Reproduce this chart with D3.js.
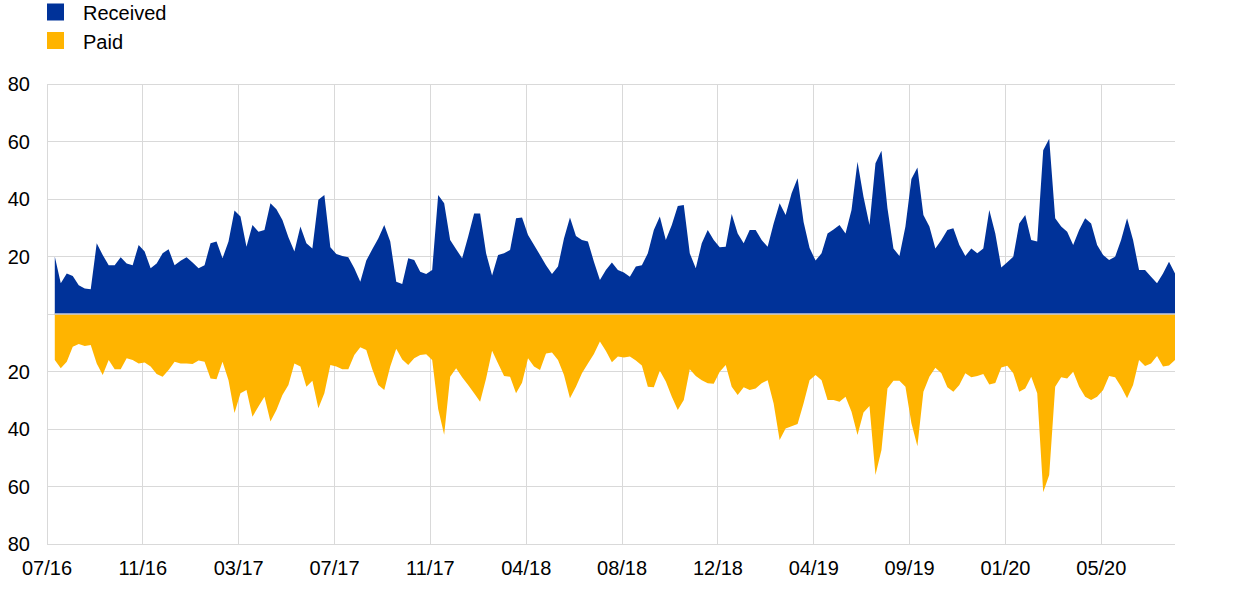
<!DOCTYPE html>
<html>
<head>
<meta charset="utf-8">
<script src="https://cdn.jsdelivr.net/npm/d3@7"></script>
<style>
  html, body { margin: 0; padding: 0; background: #ffffff; }
  svg { display: block; }
  text { font-family: "Liberation Sans", Arial, sans-serif; fill: #000; }
</style>
</head>
<body>
<svg id="chart" width="1240" height="590"></svg>
<script>
// Received (above zero) and paid (plotted below zero), sampled at regular intervals
const received = [
  20, 10.7, 14.1, 13.2, 10, 8.9, 8.6, 24.6, 20.5, 17,
  17, 19.7, 17.6, 17, 24, 21.7, 15.9, 17.6, 21.1, 22.5,
  17, 18.5, 19.7, 17.9, 15.9, 17, 24.6, 25.2, 19.4, 25.2,
  36, 33.9, 23.4, 31, 28.6, 29.2, 38.5, 36.4, 32.7, 26.7,
  21.7, 30.4, 24.6, 22.8, 39.7, 41.4, 23.2, 20.9, 20.2, 19.7,
  15.9, 11.2, 18.6, 22.5, 26.3, 31, 25.2, 11.2, 10.4, 19.4,
  18.8, 14.7, 13.9, 15.3, 41.4, 38.5, 25.7, 22.5, 19.4, 26.9,
  35, 35, 21.1, 13.4, 20.5, 21.1, 22.3, 33.3, 33.6, 27.5,
  24, 20.5, 17, 13.9, 16.5, 26.3, 33.6, 27.1, 25.7, 25.2,
  18.2, 11.8, 15.3, 17.9, 15.3, 14.4, 13, 16.5, 17, 21.1,
  29.2, 33.9, 25.7, 31, 37.6, 37.9, 21.1, 15.9, 24.6, 29.2,
  25.7, 23.2, 23.4, 34.8, 28, 24.6, 29.2, 29.2, 25.7, 23.4,
  31.5, 38.5, 34.4, 42, 47.2, 32, 23, 18.6, 21.1, 28,
  29.4, 31, 28, 36.2, 53, 40.8, 31, 52.4, 56.8, 36.8,
  22.8, 20.2, 30.4, 47, 51, 34.4, 30.4, 22.8, 25.7, 29.2,
  29.8, 24, 20.2, 22.8, 21.1, 22.8, 36.2, 28, 16.2, 18,
  19.9, 31.5, 34.4, 25.7, 25.2, 57, 61, 33.3, 30.4, 28.6,
  24, 29.2, 33.3, 31.5, 24, 20.5, 18.8, 19.9, 25.7, 33.3,
  25.7, 15.3, 15.3, 13, 10.7, 14.1, 18.2, 14.1
];
const paid = [
  16, 18.9, 16.6, 11.4, 10.4, 11.1, 10.8, 17.2, 21.2, 16,
  19.2, 19.2, 15.4, 16, 17.2, 16.9, 18.3, 20.9, 21.8, 19.5,
  16.6, 17.2, 17.2, 17.4, 16.2, 16.6, 22.4, 22.7, 16.6, 23,
  34.4, 27.6, 26.4, 35.7, 32.2, 28.8, 37.4, 33.4, 28.2, 24.7,
  17.2, 18.3, 25.3, 23.2, 32.8, 27.6, 17.7, 18.3, 19.2, 19.2,
  14.3, 11.6, 12.5, 19.2, 24.7, 26.4, 18.3, 12.1, 15.8, 17.7,
  15.4, 14.3, 14, 16, 33, 42, 21.8, 18.9, 22, 24.7,
  27.6, 30.5, 22.4, 12.8, 17.2, 21.6, 21.8, 27.6, 23.9, 15.4,
  18.3, 19.5, 13.7, 13.4, 16, 21.2, 29.3, 25.3, 20.6, 17.2,
  13.9, 9.6, 12.9, 16.8, 14.8, 15.1, 14.8, 16.2, 17.9, 25.3,
  25.5, 19.7, 23.5, 28.8, 33.4, 29.9, 19.2, 21.6, 23, 24.1,
  24.3, 20.1, 17.7, 25.3, 28.2, 25.5, 26.4, 25.9, 24.1, 23,
  31.1, 43.8, 39.8, 39, 38.3, 31, 23, 21.2, 23, 29.9,
  29.9, 30.5, 28.8, 34, 42.1, 34.3, 32, 56, 47.3, 25.9,
  23.2, 23.2, 25.3, 38, 46, 27, 21.8, 18.7, 20.6, 25.5,
  27, 24.7, 20.6, 22, 21.6, 20.9, 24.5, 24, 18.6, 18,
  20.6, 27, 25.9, 21.8, 27.6, 62, 56, 25.3, 22, 22.4,
  20.1, 25.3, 28.8, 29.9, 28.8, 26.4, 21.6, 22, 25.3, 29.3,
  24.7, 16, 18.1, 17.2, 14.6, 18.3, 17.9, 16
];
const tickLabels = ["07/16", "11/16", "03/17", "07/17", "11/17", "04/18", "08/18", "12/18", "04/19", "09/19", "01/20", "05/20"];
const firstTickIndex = -1.3;   // sample index of first labelled tick
const tickEvery = 16;          // samples between labelled ticks
const yTicks = [-80, -60, -40, -20, 0, 20, 40, 60, 80];
const seriesNames = ["Received", "Paid"];
const colors = ["#003299", "#FFB400"];

const svg = d3.select("#chart");
const plotL = 47, plotR = 1175, plotT = 84, plotB = 544;
const N = received.length;

const x = d3.scaleLinear().domain([firstTickIndex, N - 1]).range([plotL, plotR]);
const y = d3.scaleLinear().domain([-80, 80]).range([plotB, plotT]);
const tickIdx = tickLabels.map((_, k) => firstTickIndex + k * tickEvery);

// grid
const grid = svg.append("g");
grid.selectAll("line.h").data(yTicks).enter().append("line")
  .attr("x1", plotL).attr("x2", plotR)
  .attr("y1", d => y(d)).attr("y2", d => y(d))
  .attr("stroke", "#d9d9d9").attr("stroke-width", 1).attr("shape-rendering", "crispEdges");
grid.selectAll("line.v").data(tickIdx).enter().append("line")
  .attr("x1", d => x(d)).attr("x2", d => x(d))
  .attr("y1", plotT).attr("y2", plotB)
  .attr("stroke", "#d9d9d9").attr("stroke-width", 1).attr("shape-rendering", "crispEdges");

// areas
const areaUp = d3.area().x((d, i) => x(i)).y0(y(0)).y1(d => y(d));
const areaDown = d3.area().x((d, i) => x(i)).y0(y(0)).y1(d => y(-d));
svg.append("path").datum(received).attr("d", areaUp).attr("fill", colors[0]);
svg.append("path").datum(paid).attr("d", areaDown).attr("fill", colors[1]);

// zero line
svg.append("line")
  .attr("x1", x(0)).attr("x2", plotR)
  .attr("y1", y(0)).attr("y2", y(0))
  .attr("stroke", "#c5cde0").attr("stroke-width", 1.5);

// y labels
svg.append("g").selectAll("text").data(yTicks.filter(d => d !== 0)).enter().append("text")
  .attr("x", 30).attr("y", d => y(d)).attr("dy", "0.36em")
  .attr("text-anchor", "end").attr("font-size", 20)
  .text(d => Math.abs(d));

// x labels
svg.append("g").selectAll("text").data(tickLabels).enter().append("text")
  .attr("x", (d, k) => x(tickIdx[k])).attr("y", 575)
  .attr("text-anchor", "middle").attr("font-size", 20)
  .text(d => d);

// legend
const leg = svg.append("g").selectAll("g").data(seriesNames).enter().append("g")
  .attr("transform", (d, i) => `translate(47, ${3.5 + i * 28.5})`);
leg.append("rect").attr("width", 17).attr("height", 17).attr("fill", (d, i) => colors[i]);
leg.append("text").attr("x", 36).attr("y", 16.5).attr("font-size", 20).text(d => d);
</script>
</body>
</html>
